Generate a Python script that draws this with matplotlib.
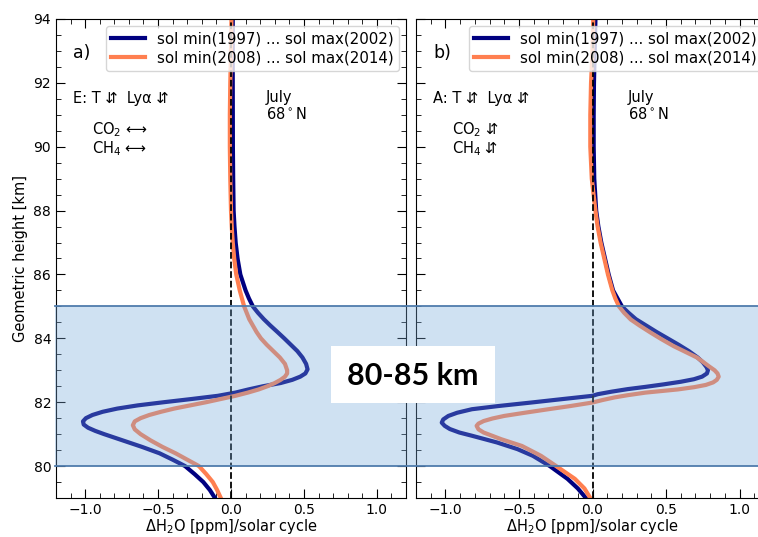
import numpy as np
import matplotlib
matplotlib.use("Agg")
import matplotlib.pyplot as plt
from matplotlib.patches import Rectangle
from matplotlib.lines import Line2D
from matplotlib import transforms
from matplotlib.ticker import MultipleLocator

# heights [km] and H2O solar-cycle response [ppm]
# panel a) (E)
h_a_blue = [94, 92, 90, 89, 88, 87.5, 87, 86.5, 86, 85.5, 85.25, 85, 84.8, 84.6, 84.4, 84.2, 84,
            83.8, 83.6, 83.4, 83.2, 83.03, 82.9, 82.8, 82.7, 82.6, 82.5, 82.4, 82.3, 82.2, 82.1,
            82, 81.9, 81.8, 81.7, 81.6, 81.5, 81.4, 81.3, 81.2, 81.1, 81, 80.8, 80.6, 80.4,
            80.2, 80, 79.75, 79.5, 79.25, 79]
v_a_blue = [0.012, 0.012, 0.013, 0.015, 0.018, 0.024, 0.032, 0.045, 0.064, 0.10, 0.123, 0.15,
            0.185, 0.225, 0.27, 0.318, 0.365, 0.41, 0.455, 0.49, 0.515, 0.525, 0.51, 0.475,
            0.42, 0.34, 0.22, 0.12, 0.03, -0.09, -0.27, -0.46, -0.64, -0.78, -0.88, -0.95,
            -0.995, -1.015, -1.01, -0.98, -0.93, -0.87, -0.74, -0.61, -0.49, -0.40, -0.315,
            -0.25, -0.19, -0.145, -0.11]
h_a_orange = [94, 93, 92, 91, 90, 89, 88, 87.5, 87, 86.5, 86, 85.5, 85, 84.6, 84.2, 84, 83.8,
              83.6, 83.4, 83.2, 83, 82.9, 82.8, 82.7, 82.6, 82.5, 82.4, 82.3, 82.2, 82.1, 82,
              81.9, 81.8, 81.7, 81.6, 81.5, 81.4, 81.28, 81.15, 81, 80.8, 80.6, 80.4, 80.2, 80,
              79.75, 79.5, 79.25, 79]
v_a_orange = [0.003, 0.0, -0.005, -0.008, -0.008, -0.005, 0.0, 0.005, 0.012, 0.022, 0.036,
              0.06, 0.09, 0.125, 0.175, 0.205, 0.245, 0.29, 0.335, 0.37, 0.385, 0.385, 0.37,
              0.34, 0.30, 0.25, 0.19, 0.115, 0.03, -0.07, -0.17, -0.28, -0.39, -0.48, -0.56,
              -0.62, -0.66, -0.673, -0.66, -0.62, -0.55, -0.47, -0.38, -0.30, -0.22, -0.17,
              -0.125, -0.095, -0.07]
# panel b) (A)
h_b_blue = [94, 93, 92, 91, 90, 89, 88, 87.5, 87, 86.5, 86, 85.5, 85.25, 85, 84.8, 84.6, 84.4,
            84.2, 84, 83.8, 83.6, 83.4, 83.25, 83.1, 83, 82.9, 82.8, 82.72, 82.64, 82.56,
            82.48, 82.41, 82.33, 82.25, 82.2, 82.1, 81.99, 81.88, 81.78, 81.67, 81.57, 81.46,
            81.36, 81.26, 81.16, 81.05, 80.95, 80.74, 80.53, 80.32, 80, 79.6, 79.3, 79]
v_b_blue = [0.02, 0.015, 0.01, 0.008, 0.008, 0.012, 0.025, 0.04, 0.06, 0.085, 0.11, 0.14,
            0.17, 0.2, 0.245, 0.295, 0.365, 0.435, 0.51, 0.585, 0.655, 0.715, 0.75, 0.775,
            0.785, 0.778, 0.745, 0.69, 0.60, 0.486, 0.36, 0.24, 0.13, 0.035, 0.0, -0.2,
            -0.416, -0.64, -0.82, -0.92, -0.98, -1.015, -1.025, -1.005, -0.97, -0.905, -0.82,
            -0.65, -0.51, -0.405, -0.29, -0.17, -0.1, -0.045]
h_b_orange = [94, 93, 92, 91, 90, 89, 88, 87.5, 87, 86.5, 86, 85.5, 85.25, 85, 84.8, 84.59,
              84.4, 84.18, 83.97, 83.76, 83.58, 83.4, 83.25, 83.13, 83, 82.9, 82.8, 82.7,
              82.62, 82.54, 82.47, 82.4, 82.3, 82.22, 82.15, 82.07, 81.99, 81.88, 81.78,
              81.67, 81.57, 81.49, 81.41, 81.33, 81.26, 81.15, 81.05, 80.84, 80.63, 80.32, 80,
              79.6, 79.3, 79]
v_b_orange = [0.005, 0.0, -0.01, -0.015, -0.015, -0.005, 0.02, 0.035, 0.055, 0.08, 0.105,
              0.135, 0.155, 0.18, 0.215, 0.26, 0.32, 0.395, 0.47, 0.55, 0.63, 0.71, 0.755,
              0.79, 0.83, 0.85, 0.858, 0.845, 0.82, 0.77, 0.69, 0.58, 0.36, 0.24, 0.15, 0.07,
              0.0, -0.15, -0.30, -0.46, -0.60, -0.68, -0.74, -0.775, -0.788, -0.775, -0.74,
              -0.62, -0.48, -0.35, -0.247, -0.12, -0.055, -0.015]

labels = ["sol min(1997) ... sol max(2002)", "sol min(2008) ... sol max(2014)"]
panel_tags = ["a)", "b)"]
forcing_text = ["E: T ⇵  Lyα ⇵", "A: T ⇵  Lyα ⇵"]
gas_text = ["CO$_2$ ⟷\nCH$_4$ ⟷", "CO$_2$ ⇵\nCH$_4$ ⇵"]
band_lo, band_hi = 80, 85
band_label = "80-85 km"

fig = plt.figure(figsize=(7.58, 5.37), dpi=100)
ax1 = fig.add_axes([56 / 758, 39 / 537, 350 / 758, 479 / 537])
ax2 = fig.add_axes([416 / 758, 39 / 537, 353 / 758, 479 / 537])

series = [(h_a_blue, v_a_blue, h_a_orange, v_a_orange),
          (h_b_blue, v_b_blue, h_b_orange, v_b_orange)]

for i, ax in enumerate([ax1, ax2]):
    hb, vb, ho, vo = series[i]
    ax.plot(vb, hb, color="navy", lw=3, label=labels[0])
    ax.plot(vo, ho, color="coral", lw=3, label=labels[1])
    ax.axvline(0, color="black", ls="--", lw=1.3)
    ax.set_xlim(-1.2, 1.2)
    ax.set_ylim(79, 94)
    ax.xaxis.set_major_locator(MultipleLocator(0.5))
    ax.xaxis.set_minor_locator(MultipleLocator(0.1))
    ax.yaxis.set_major_locator(MultipleLocator(2))
    ax.yaxis.set_minor_locator(MultipleLocator(0.5))
    ax.tick_params(which="both", direction="in", top=True, right=True, labelsize=10)
    ax.tick_params(which="major", length=6.5)
    ax.tick_params(which="minor", length=3.5)
    ax.set_xlabel("ΔH$_2$O [ppm]/solar cycle", fontsize=10.5, labelpad=0)
    ax.legend(loc="upper right", fontsize=10.8, handlelength=2.3, framealpha=0.8,
              borderaxespad=0.45, borderpad=0.35, labelspacing=0.3)
    ax.text(0.05, 0.93, panel_tags[i], transform=ax.transAxes, fontsize=12.5, va="center")
    ax.text(0.048, 0.835, forcing_text[i], transform=ax.transAxes, fontsize=10.5,
            va="center")
    ax.text(0.103, 0.749, gas_text[i], transform=ax.transAxes, fontsize=10.5, va="center",
            linespacing=1.05)
    ax.text(0.6, 0.818, "July\n68$^\\circ$N", transform=ax.transAxes, fontsize=10.5,
            va="center", linespacing=1.1)

ax1.set_ylabel("Geometric height [km]", fontsize=10.5)
ax2.tick_params(labelleft=False)

# shaded altitude band across both panels, drawn on top with transparency
trans = transforms.blended_transform_factory(fig.transFigure, ax1.transData)
x0 = 55 / 758
fig.add_artist(Rectangle((x0, band_lo), 1 - x0, band_hi - band_lo, transform=trans,
                         facecolor="#76a9da", alpha=0.35, edgecolor="none", zorder=2))
for yb in [band_lo, band_hi]:
    fig.add_artist(Line2D([x0, 1], [yb, yb], transform=trans, color="#4f7cac", lw=1.3,
                          zorder=2))

fig.add_artist(Rectangle((331 / 758, 134 / 537), 164 / 758, 57 / 537,
                         transform=fig.transFigure, facecolor="white", edgecolor="none",
                         zorder=3))
fig.text(413 / 758, 1 - 376 / 537, band_label, ha="center", va="center", fontsize=22,
         fontweight="bold", family="Lato", zorder=4)

fig.savefig("out.png", dpi=100)
